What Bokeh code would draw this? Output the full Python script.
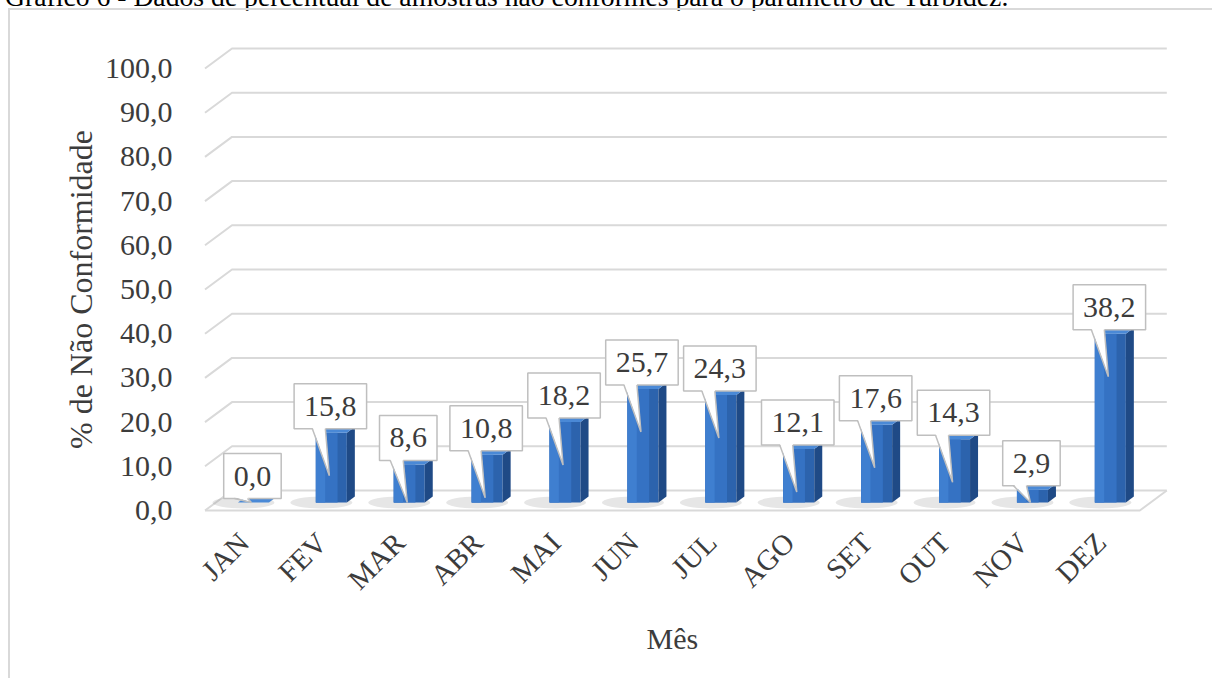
import math
from bokeh.plotting import figure
from bokeh.models import Range1d, LinearAxis, FixedTicker, Title, Div
from bokeh.layouts import column
from bokeh.embed import file_html
from bokeh.resources import INLINE

# ---------------- data ----------------
months = ["JAN", "FEV", "MAR", "ABR", "MAI", "JUN", "JUL", "AGO", "SET", "OUT", "NOV", "DEZ"]
values = [0.0, 15.8, 8.6, 10.8, 18.2, 25.7, 24.3, 12.1, 17.6, 14.3, 2.9, 38.2]
y_ticks = [0, 10, 20, 30, 40, 50, 60, 70, 80, 90, 100]
y_tick_labels = ["0,0", "10,0", "20,0", "30,0", "40,0", "50,0", "60,0", "70,0", "80,0", "90,0", "100,0"]
x_title = "Mês"
y_title = "% de Não Conformidade"
doc_title = "Gráfico 6 - Dados de percentual de amostras não conformes para o parâmetro de Turbidez."

# ---------------- layout / style ----------------
W, H = 1204, 670
B_LEFT, B_TOP, B_BOTTOM = 190, 35, 147
FRAME_W = W - B_LEFT
FRAME_H = H - B_TOP - B_BOTTOM
PX_X = 77.9          # pixels per category
PX_Y = 4.42          # pixels per percent unit
DX = 27 / PX_X       # 3D depth (x)
DY = 20 / PX_Y       # 3D depth (y)
BASE = 8 / PX_Y      # bar base (mid depth)
BW = 31 / PX_X       # bar front width
SX = 8 / PX_X        # bar side width
SY = 6 / PX_Y        # bar top depth
FONT = "Liberation Serif"
TXT = "#3c3c3c"
GRID = "#d9d9d9"
LBL_SIZE = 30

x0 = -0.5 - 4.5 / PX_X
y0 = -23 / PX_Y
p = figure(width=W, height=H, output_backend="svg", toolbar_location=None,
           x_range=Range1d(x0, x0 + FRAME_W / PX_X),
           y_range=Range1d(y0, y0 + FRAME_H / PX_Y),
           x_axis_location=None, y_axis_location=None,
           min_border_left=B_LEFT, min_border_right=0,
           min_border_top=B_TOP, min_border_bottom=B_BOTTOM)
p.grid.visible = False
p.outline_line_color = None
p.background_fill_color = "white"
p.border_fill_color = "white"
p.styles = {"margin-left": "8px", "margin-top": "-2px",
            "border-left": "2px solid #d9d9d9", "border-top": "2px solid #d9d9d9"}

n = len(months)
left_x = -0.5
right_x = n - 0.5

# walls: gridlines (left oblique + back wall)
xs, ys = [], []
for t in y_ticks:
    xs.append([left_x, left_x + DX, right_x + DX])
    ys.append([t, t + DY, t + DY])
p.multi_line(xs, ys, line_color=GRID, line_width=2)

# floor front and right edges
p.line([left_x, right_x, right_x + DX], [0, 0, DY], line_color=GRID, line_width=2)

# bars (3D look)
cx = [i + DX / 2 for i in range(n)]
fl = [c - (BW + SX) / 2 for c in cx]
fr = [l + BW for l in fl]
tops = [BASE + v for v in values]

# soft floor shadows
p.ellipse(x=[c - 14 / PX_X for c in cx], y=[BASE] * n, width=62, height=12,
          width_units="screen", height_units="screen",
          fill_color="#8c8c8c", fill_alpha=0.22, line_color=None)

# front face in three shades (light left -> darker right)
p.quad(left=fl, right=fr, bottom=[BASE] * n, top=tops, fill_color="#2c63ad", line_color=None)
p.quad(left=fl, right=[l + BW * 0.7 for l in fl], bottom=[BASE] * n, top=tops,
       fill_color="#3572c3", line_color=None)
p.quad(left=fl, right=[l + BW * 0.3 for l in fl], bottom=[BASE] * n, top=tops,
       fill_color="#3f7fd0", line_color=None)
side_x = [[r, r + SX, r + SX, r] for r in fr]
side_y = [[BASE, BASE + SY, t + SY, t] for t in tops]
p.patches(side_x, side_y, fill_color="#1f4a86", line_color=None)
top_x = [[l, r, r + SX, l + SX] for l, r in zip(fl, fr)]
top_y = [[t, t, t + SY, t + SY] for t in tops]
p.patches(top_x, top_y, fill_color="#4a89d6", line_color=None)

# data callouts (box + pointer + text)
GAP = 4
BOX_H = 45
labels = [f"{v:.1f}".replace(".", ",") for v in values]
box_w = [(sum(0.25 if ch == "," else 0.5 for ch in s)) * LBL_SIZE + 20 for s in labels]
xb = [c - 5 / PX_X for c in cx]
yb = [t + GAP / PX_Y for t in tops]
yc = [t + (GAP + BOX_H / 2) / PX_Y for t in tops]
p.rect(x=xb, y=yc, width=[w / PX_X for w in box_w], height=[BOX_H / PX_Y] * n,
       fill_color="white", line_color="#bfbfbf", line_width=1.5)

ptr_x, ptr_y, ptr_lx, ptr_ly = [], [], [], []
for i in range(n):
    tip_x = xb[i] - 1 / PX_X
    tip_y = max(tops[i] - 43 / PX_Y, BASE)
    a = xb[i] - 18 / PX_X
    b = xb[i] - 5 / PX_X
    ptr_x.append([a, b, tip_x])
    ptr_y.append([yb[i] + 0.35, yb[i] + 0.35, tip_y])
    ptr_lx.append([a, tip_x, b])
    ptr_ly.append([yb[i], tip_y, yb[i]])
p.patches(ptr_x, ptr_y, fill_color="white", line_color=None)
p.multi_line(ptr_lx, ptr_ly, line_color="#bfbfbf", line_width=1.5)
p.text(x=xb, y=yc, text=labels, text_align="center", text_baseline="middle",
       text_font={"value": FONT}, text_font_size={"value": f"{LBL_SIZE}px"}, text_color=TXT)

# axes
yaxis = LinearAxis(ticker=FixedTicker(ticks=y_ticks),
                   major_label_overrides=dict(zip(y_ticks, y_tick_labels)),
                   axis_label=y_title)
xaxis = LinearAxis(ticker=FixedTicker(ticks=list(range(n))),
                   major_label_overrides=dict(enumerate(months)),
                   major_label_orientation=math.pi / 4)
for ax in (yaxis, xaxis):
    ax.axis_line_color = None
    ax.major_tick_line_color = None
    ax.minor_tick_line_color = None
    ax.major_label_text_font = FONT
    ax.major_label_text_font_size = "30px"
    ax.major_label_text_color = TXT
    ax.axis_label_text_font = FONT
    ax.axis_label_text_font_size = "32px"
    ax.axis_label_text_font_style = "normal"
    ax.axis_label_text_color = TXT
xaxis.major_label_text_font_size = "29px"
yaxis.major_label_standoff = 22
yaxis.axis_label_standoff = 3
xaxis.major_label_standoff = -2
p.add_layout(yaxis, "left")
p.add_layout(xaxis, "below")

x_title_obj = Title(text=x_title, align="left", offset=446, standoff=20,
                    text_font=FONT, text_font_size="30px", text_font_style="normal",
                    text_color=TXT)
p.add_layout(x_title_obj, "below")

title_div = Div(text=doc_title, width=1200, height=0,
                styles={"position": "relative", "top": "-23px", "left": "0px",
                        "overflow": "visible", "white-space": "nowrap",
                        "font-family": "'Liberation Serif'", "font-size": "27.7px",
                        "color": "#000000", "line-height": "30px"})

layout = column(title_div, p, spacing=0)
open("out.html", "w").write(file_html(layout, INLINE))
